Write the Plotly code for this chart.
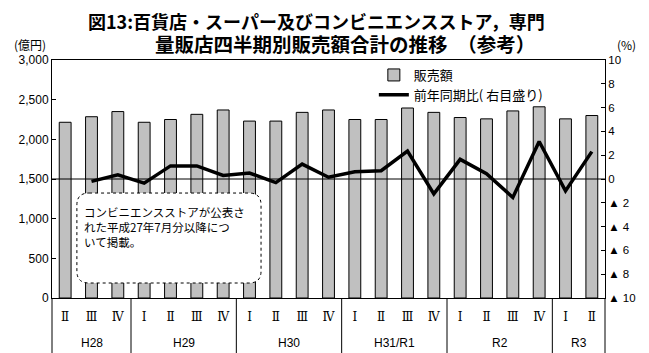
import plotly.graph_objects as go

# ── Data ─────────────────────────────────────────────────────────────
years = (["H28"] * 3 + ["H29"] * 4 + ["H30"] * 4 + ["H31/R1"] * 4
         + ["R2"] * 4 + ["R3"] * 2)
quarters = ["Ⅱ", "Ⅲ", "Ⅳ",
            "Ⅰ", "Ⅱ", "Ⅲ", "Ⅳ",
            "Ⅰ", "Ⅱ", "Ⅲ", "Ⅳ",
            "Ⅰ", "Ⅱ", "Ⅲ", "Ⅳ",
            "Ⅰ", "Ⅱ", "Ⅲ", "Ⅳ",
            "Ⅰ", "Ⅱ"]

# 販売額 (億円)
sales = [2215, 2285, 2350, 2215, 2250, 2315, 2370, 2230, 2230, 2340, 2370,
         2250, 2250, 2395, 2340, 2275, 2258, 2358, 2410, 2258, 2300]

# 前年同期比 (%)
yoy = [None, -0.2, 0.35, -0.35, 1.1, 1.1, 0.3, 0.5, -0.3, 1.25, 0.15,
       0.6, 0.7, 2.35, -1.25, 1.65, 0.45, -1.55, 3.15, -1.0, 2.3]

right_vals = [10, 8, 6, 4, 2, 0, -2, -4, -6, -8, -10]
right_text = ["10", "8", "6", "4", "2", "0", "▲ 2", "▲ 4", "▲ 6", "▲ 8", "▲ 10"]

FONT = "Liberation Sans, Arial, Noto Sans CJK JP, sans-serif"
JP = "Noto Sans CJK JP, sans-serif"

n = len(quarters)
pos = list(range(n))

fig = go.Figure()

fig.add_trace(go.Bar(
    x=pos, y=sales, name="販売額",
    marker=dict(color="#c0c0c0", line=dict(color="#000000", width=1)),
    yaxis="y",
))

fig.add_trace(go.Scatter(
    x=pos, y=yoy, name="前年同期比( 右目盛り)",
    mode="lines", line=dict(color="#000000", width=3.5),
    yaxis="y2",
))

# zero line of the right axis
fig.add_shape(type="line", xref="paper", yref="y2", x0=0, x1=1, y0=0, y1=0,
              line=dict(color="#000000", width=1), layer="above")

# year groups: dividers below the axis and centred labels
groups = []
for i, yr in enumerate(years):
    if not groups or groups[-1][0] != yr:
        groups.append([yr, i, i])
    else:
        groups[-1][2] = i

AX_BOTTOM = -0.235   # paper y of the figure's bottom edge
for yr, i0, i1 in groups:
    xb = i0 / n
    fig.add_shape(type="line", xref="paper", yref="paper",
                  x0=xb, x1=xb, y0=0, y1=AX_BOTTOM,
                  line=dict(color="#000000", width=1))
    fig.add_annotation(xref="x", yref="paper", x=(i0 + i1) / 2, y=-0.19,
                       xanchor="center", yanchor="middle", showarrow=False,
                       text=yr, font=dict(family=FONT, size=12, color="#000000"))
fig.add_shape(type="line", xref="paper", yref="paper", x0=1, x1=1,
              y0=0, y1=AX_BOTTOM, line=dict(color="#000000", width=1))

# rounded dashed note box
bx0, bx1, by0, by1 = 0.045, 0.378, 0.063, 0.441
rx, ry = 0.022, 0.05
path = (f"M{bx0+rx},{by1} L{bx1-rx},{by1} Q{bx1},{by1} {bx1},{by1-ry} "
        f"L{bx1},{by0+ry} Q{bx1},{by0} {bx1-rx},{by0} "
        f"L{bx0+rx},{by0} Q{bx0},{by0} {bx0},{by0+ry} "
        f"L{bx0},{by1-ry} Q{bx0},{by1} {bx0+rx},{by1} Z")
fig.add_shape(type="path", xref="paper", yref="paper", path=path,
              fillcolor="#ffffff", line=dict(color="#000000", width=1, dash="dot"),
              layer="above")

fig.add_annotation(
    xref="paper", yref="paper", x=0.054, y=0.405, xanchor="left", yanchor="top",
    align="left", showarrow=False,
    text="コンビニエンスストアが公表さ<br>れた平成27年7月分以降につ<br>いて掲載。",
    font=dict(family=JP, size=11.5, color="#000000"),
)

# title, two lines
fig.add_annotation(
    xref="paper", yref="paper", x=(316 - 52) / 553, y=1, yshift=39,
    xanchor="center", yanchor="middle", showarrow=False, borderpad=0,
    text="<b>図13:百貨店・スーパー及びコンビニエンスストア，専門</b>",
    font=dict(family=JP, size=18, color="#000000"),
)
fig.add_annotation(
    xref="paper", yref="paper", x=(345 - 52) / 553, y=1, yshift=17,
    xanchor="center", yanchor="middle", showarrow=False, borderpad=0,
    text="<b>量販店四半期別販売額合計の推移\u3000（参考）</b>",
    font=dict(family=JP, size=19.5, color="#000000"),
)

# axis unit labels
fig.add_annotation(xref="paper", yref="paper", x=0, xshift=-22, y=1, yshift=16,
                   xanchor="center", yanchor="middle", showarrow=False,
                   text="(億円)", font=dict(family=JP, size=12, color="#000000"))
fig.add_annotation(xref="paper", yref="paper", x=1, xshift=21, y=1, yshift=16,
                   xanchor="center", yanchor="middle", showarrow=False,
                   text="(%)", font=dict(family=JP, size=12, color="#000000"))

# the page body adds an 8px margin, so the figure is 8px smaller than the window
fig.update_layout(
    width=641, height=345,
    margin=dict(l=44, r=44, t=52, b=55, autoexpand=False),
    paper_bgcolor="#ffffff", plot_bgcolor="#ffffff",
    font=dict(family=FONT, size=12, color="#000000"),
    bargap=0.55,
    showlegend=True,
    legend=dict(x=0.582, y=1.0, xanchor="left", yanchor="top",
                bgcolor="rgba(0,0,0,0)", itemwidth=30,
                font=dict(family=JP, size=13), tracegroupgap=0),
    xaxis=dict(
        range=[-0.5, n - 0.5], tickvals=pos, ticktext=quarters,
        showline=True, linecolor="#000000", linewidth=1, mirror=True,
        showgrid=False, zeroline=False, ticks="",
        ticklabelstandoff=8,
        tickfont=dict(family="DejaVu Serif, Liberation Serif, serif", size=12),
    ),
    yaxis=dict(
        range=[0, 3000], dtick=500, tickformat=",",
        showline=True, linecolor="#000000", linewidth=1,
        showgrid=False, zeroline=False,
        ticks="inside", ticklen=4, tickcolor="#000000",
        tickfont=dict(size=12),
    ),
    yaxis2=dict(
        overlaying="y", side="right",
        range=[-10, 10], tickvals=right_vals, ticktext=right_text,
        showline=True, linecolor="#000000", linewidth=1,
        showgrid=False, zeroline=False,
        ticks="inside", ticklen=4, tickcolor="#000000",
        tickfont=dict(size=11.5),
    ),
)

fig.write_html("out.html")
